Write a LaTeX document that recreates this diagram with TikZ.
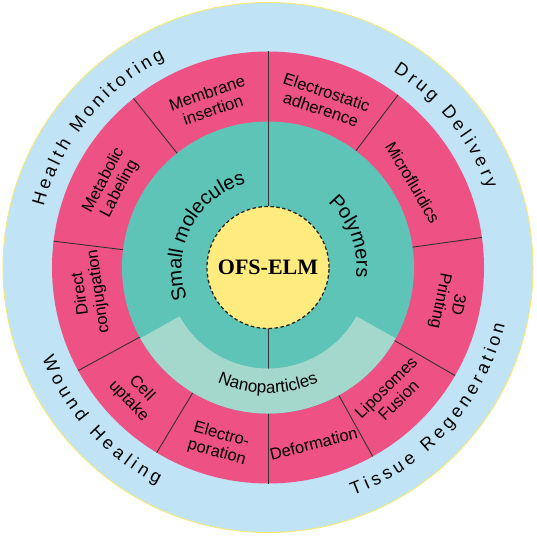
\documentclass[tikz,border=0pt]{standalone}
\usepackage{fontspec}
\setmainfont{Liberation Sans}
\newfontfamily\serifbf{Liberation Serif}
\usetikzlibrary{decorations.text}
\definecolor{ringblue}{HTML}{C0E4F6}
\definecolor{ringyellow}{HTML}{F5E97C}
\definecolor{pinkseg}{HTML}{EE5184}
\definecolor{tealin}{HTML}{5EC4B7}
\definecolor{nanoband}{HTML}{A5D8CD}
\definecolor{coreyellow}{HTML}{FFEB7E}
\begin{document}
\begin{tikzpicture}[x=1pt,y=1pt,
  divider/.style={line width=0.9pt, draw=black!80},
  seglabel/.style={font=\fontsize{16.5}{18}\selectfont, align=center, inner sep=0pt, text=black},
  arctext/.style={decorate, decoration={text along path, text align=center, text={#1}}}]
\useasboundingbox (-268,-269.5) rectangle (269,267.5);
% rings
\fill[ringblue] (0,0) circle[radius=265];
\draw[ringyellow, line width=1pt] (0,0) circle[radius=265];
\fill[pinkseg] (0,0) circle[radius=216];
\fill[tealin] (0,0) circle[radius=146];
% dividers
\foreach \a in {128.5,173,208.5,239,299,330,8,53}
  \draw[divider] (\a:146) -- (\a:216);
\draw[divider] (90:61) -- (90:216);
\draw[divider] (270:61) -- (270:216);
% nanoparticle band
\fill[nanoband] (209:101) arc[start angle=209, end angle=331, radius=101]
  -- (331:146) arc[start angle=331, end angle=209, radius=146] -- cycle;
% core
\node[circle, fill=coreyellow, draw=black!85, dash pattern=on 3.5pt off 2.5pt,
  line width=1.3pt, minimum size=122pt, inner sep=0pt,
  font=\serifbf\fontsize{22}{24}\selectfont\bfseries] (core) at (0,0) {OFS-ELM};
% outer ring texts (letter-spaced by a kern before every character)
\path[arctext={|\fontsize{18}{20}\selectfont\kern3.5pt|Health Monitoring}]
  (201:232.5) arc[start angle=201, end angle=81, radius=232.5];
\path[arctext={|\fontsize{18}{20}\selectfont\kern3.7pt|Drug Delivery}]
  (99:232.5) arc[start angle=99, end angle=-21, radius=232.5];
\path[arctext={|\fontsize{18}{20}\selectfont\kern4.3pt|Wound Healing}]
  (162:243.5) arc[start angle=162, end angle=282, radius=243.5];
\path[arctext={|\fontsize{18}{20}\selectfont\kern4.0pt|Tissue Regeneration}]
  (258:243.5) arc[start angle=258, end angle=378, radius=243.5];
% inner texts
\path[arctext={|\fontsize{20}{24}\selectfont|Small molecules}]
  (243:86.5) arc[start angle=243, end angle=63, radius=86.5];
\path[arctext={|\fontsize{20}{24}\selectfont|Polymers}]
  (110.5:88.5) arc[start angle=110.5, end angle=-69.5, radius=88.5];
\path[arctext={|\fontsize{17}{20}\selectfont|Nanoparticles}]
  (210:125.5) arc[start angle=210, end angle=330, radius=125.5];
% segment labels
\node[seglabel, rotate=19.25] (membrane) at (109.25:176) {Membrane\\insertion};
\node[seglabel, rotate=62] (metabolic) at (152:177) {Metabolic\\Labeling};
\node[seglabel, rotate=98] (direct) at (188:180) {Direct\\conjugation};
\node[seglabel, rotate=-46.25] (cell) at (223.75:184) {Cell\\uptake};
\node[seglabel, rotate=-15.5] (electro) at (254.5:183) {Electro-\\poration};
\node[seglabel, rotate=14.5] (deform) at (284.5:182) {Deformation};
\node[seglabel, rotate=44.5] (lipo) at (314.5:177) {Liposomes\\Fusion};
\node[seglabel, rotate=-101] (print) at (349:184) {3D\\Printing};
\node[seglabel, rotate=-59.5] (micro) at (30.5:168) {Microfluidics};
\node[seglabel, rotate=-18.5] (electrostatic) at (71.5:176) {Electrostatic\\adherence};
\end{tikzpicture}
\end{document}
